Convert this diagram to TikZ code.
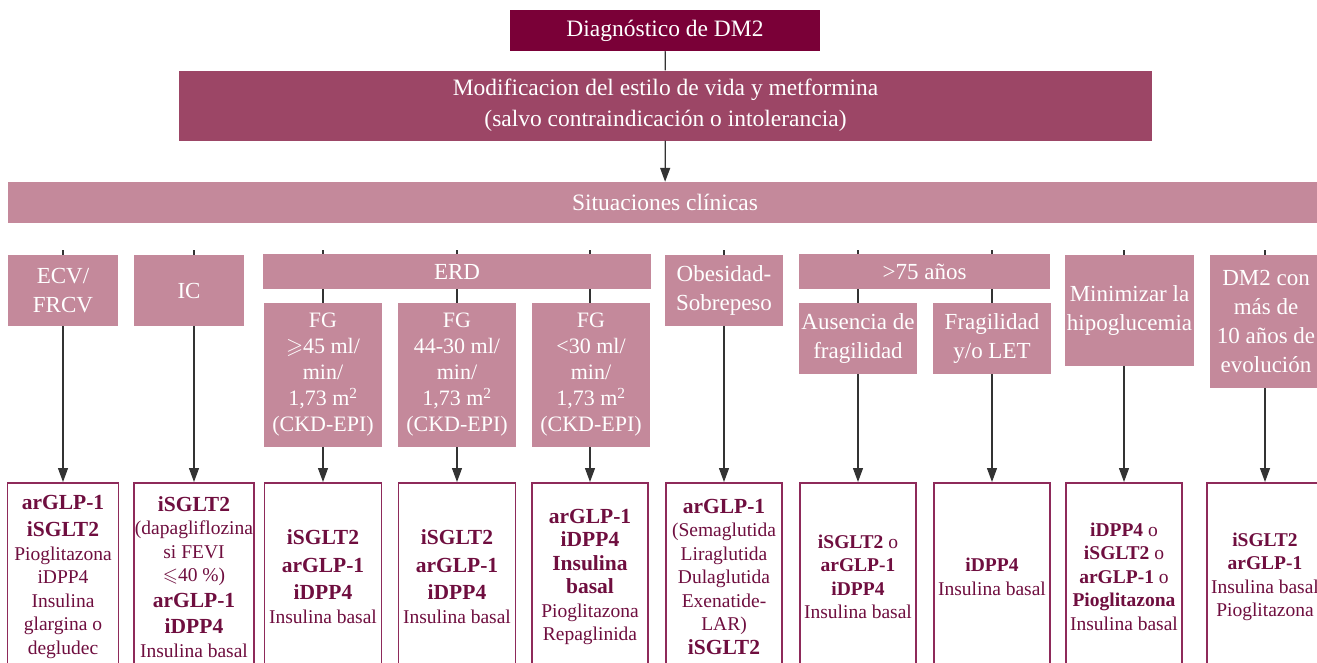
\documentclass[tikz,border=0pt]{standalone}
\usepackage{amssymb}
\usepackage{fontspec}
\setmainfont{Liberation Serif}
\usepackage{xcolor}
\usetikzlibrary{positioning, arrows.meta, backgrounds}

\definecolor{granate}{HTML}{7A0037}
\definecolor{granateMedio}{HTML}{9C4666}
\definecolor{rosaClaro}{HTML}{C4899B}
\definecolor{bordeTrat}{HTML}{8E2A5A}
\definecolor{textoTrat}{HTML}{6F0E3F}
\definecolor{gris}{HTML}{333333}

\newcommand{\farm}[1]{{\fontsize{21.5}{24}\selectfont\bfseries #1}}
\newcommand{\farmc}[1]{{\fontsize{19.5}{23}\selectfont\bfseries #1}}

\tikzset{
  caja/.style={rectangle, inner sep=0pt, align=center, text=white,
    font=\fontsize{23.5}{31}\selectfont},
  situacion/.style={caja, fill=rosaClaro, font=\fontsize{23}{29}\selectfont},
  filtrado/.style={situacion, minimum width=118, minimum height=144,
    font=\fontsize{22}{26}\selectfont},
  trat/.style={rectangle, draw=bordeTrat, line width=1.5pt, fill=white,
    text=textoTrat, anchor=north, inner sep=0pt, align=center,
    minimum width=116, minimum height=188,
    font=\fontsize{19.5}{23.5}\selectfont},
  linea/.style={draw=gris, line width=1.2pt},
  flecha/.style={linea, -{Triangle[length=14pt,width=10pt]}}
}

\begin{document}
\begin{tikzpicture}[x=1pt, y=-1pt]
\useasboundingbox (0,0) rectangle (1317,662);
\clip (0,0) rectangle (1317,662);

% Cabecera
\node[caja, fill=granate, minimum width=310, minimum height=41] (diag) at (665,30.5) {Diagnóstico de DM2};
\node[caja, fill=granateMedio, minimum width=973, minimum height=70]
  (modif) at (665.5,105.5) {Modificacion del estilo de vida y metformina\\(salvo contraindicación o intolerancia)};
\node[situacion, minimum width=1314, minimum height=41, font=\fontsize{23.5}{31}\selectfont] (sit) at (665,202.5) {Situaciones clínicas};

\draw[linea] (diag) -- (modif);
\draw[flecha] (modif) -- (sit);

% Situaciones clinicas
\node[situacion, minimum width=110, minimum height=71] (ecv) at (63,290.5) {ECV/\\FRCV};
\node[situacion, minimum width=110, minimum height=71] (ic) at (189,290.5) {IC};
\node[situacion, minimum width=388, minimum height=35] (erd) at (457,271.5) {ERD};
\node[filtrado] (fg1) at (323,375) {FG\\$\geqslant$45 ml/\\min/\\1,73 m\textsuperscript{2}\\(CKD-EPI)};
\node[filtrado] (fg2) at (457,375) {FG\\44-30 ml/\\min/\\1,73 m\textsuperscript{2}\\(CKD-EPI)};
\node[filtrado] (fg3) at (591,375) {FG\\<30 ml/\\min/\\1,73 m\textsuperscript{2}\\(CKD-EPI)};
\node[situacion, minimum width=118, minimum height=71] (obes) at (724,290.5) {Obesidad-\\Sobrepeso};
\node[situacion, minimum width=251, minimum height=35] (mayor) at (924.5,271.5) {>75 años};
\node[situacion, minimum width=118, minimum height=71] (ausen) at (858,338.5) {Ausencia de\\fragilidad};
\node[situacion, minimum width=118, minimum height=71] (fragil) at (992,338.5) {Fragilidad\\y/o LET};
\node[situacion, minimum width=129, minimum height=111] (minim) at (1129.5,310.5) {Minimizar la\\hipoglucemia};
\node[situacion, minimum width=112, minimum height=133] (evol) at (1266,321.5) {DM2 con\\más de\\10 años de\\evolución};

% Tratamientos
\node[trat, minimum width=111] (t1) at (63,482)
  {\farm{arGLP-1}\\[4pt] \farm{iSGLT2}\\ Pioglitazona\\ iDPP4\\ Insulina\\ glargina o\\ degludec};
\node[trat, minimum width=120] (t2) at (194,482)
  {\farm{iSGLT2}\\ (dapagliflozina\\ si FEVI\\ $\leqslant$40 \%)\\[2pt] \farm{arGLP-1}\\[3pt] \farm{iDPP4}\\ Insulina basal};
\node[trat, minimum width=117] (t3) at (323,482)
  {\farm{iSGLT2}\\[4pt] \farm{arGLP-1}\\[4pt] \farm{iDPP4}\\ Insulina basal};
\node[trat, minimum width=117] (t4) at (457,482)
  {\farm{iSGLT2}\\[4pt] \farm{arGLP-1}\\[4pt] \farm{iDPP4}\\ Insulina basal};
\node[trat] (t5) at (590,482)
  {\farm{arGLP-1}\\ \farm{iDPP4}\\ \farm{Insulina}\\ \farm{basal}\\ Pioglitazona\\ Repaglinida};
\node[trat] (t6) at (724,482)
  {\farm{arGLP-1}\\ (Semaglutida\\ Liraglutida\\ Dulaglutida\\ Exenatide-\\ LAR)\\ \farm{iSGLT2}};
\node[trat] (t7) at (858,482)
  {\farmc{iSGLT2} o\\ \farmc{arGLP-1}\\ \farmc{iDPP4}\\ Insulina basal};
\node[trat] (t8) at (992,482)
  {\farmc{iDPP4}\\ Insulina basal};
\node[trat] (t9) at (1124,482)
  {\farmc{iDPP4} o\\ \farmc{iSGLT2} o\\ \farmc{arGLP-1} o\\ \farmc{Pioglitazona}\\ Insulina basal};
\node[trat] (t10) at (1265,482)
  {\farmc{iSGLT2}\\ \farmc{arGLP-1}\\ Insulina basal\\ Pioglitazona};

% Lineas verticales por detras de las cajas
\coordinate (l1) at (63,250);
\coordinate (l2) at (194,250);
\coordinate (l3) at (323,250);
\coordinate (l4) at (457,250);
\coordinate (l5) at (590,250);
\coordinate (l6) at (724,250);
\coordinate (l7) at (858,250);
\coordinate (l8) at (992,250);
\coordinate (l9) at (1124,250);
\coordinate (l10) at (1265,250);
\begin{scope}[on background layer]
  \foreach \i in {1,...,10}
    \draw[flecha] (l\i) -- (t\i);
\end{scope}

\end{tikzpicture}
\end{document}
